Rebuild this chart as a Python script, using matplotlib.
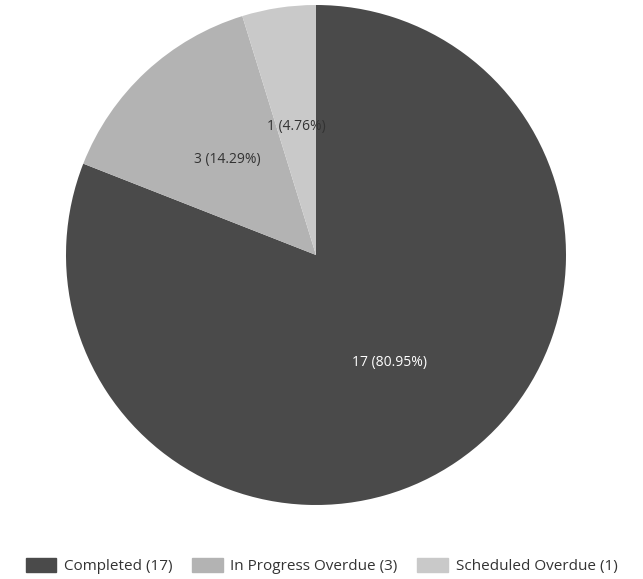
import matplotlib.pyplot as plt
import numpy as np

# data
labels = ["Completed", "In Progress Overdue", "Scheduled Overdue"]
counts = [17, 3, 1]
colors = ["#4a4a4a", "#b3b3b3", "#c9c9c9"]

plt.rcParams['font.family'] = ['Open Sans', 'DejaVu Sans']

fig = plt.figure(figsize=(6.43, 5.79), dpi=100)
# pie area: center ~ (316, 255), radius ~250 px
ax = fig.add_axes([66 / 643, (579 - 505) / 579, 500 / 643, 500 / 579])

total = sum(counts)
wedges, texts = ax.pie(counts, colors=colors, startangle=90, counterclock=False,
                       radius=1.0, wedgeprops=dict(linewidth=0))

for w, c in zip(wedges, counts):
    ang = np.deg2rad((w.theta1 + w.theta2) / 2)
    x, y = 0.52 * np.cos(ang), 0.52 * np.sin(ang)
    txt_col = "white" if w.get_facecolor()[0] < 0.5 else "#333333"
    ax.text(x, y, f"{c} ({c / total * 100:.2f}%)", ha="center", va="center",
            fontsize=10, color=txt_col)

ax.set_xlim(-1, 1)
ax.set_ylim(-1, 1)
ax.set_aspect("equal")

handles = [plt.Rectangle((0, 0), 1, 1, color=col) for col in colors]
leg_labels = [f"{l} ({c})" for l, c in zip(labels, counts)]
fig.legend(handles, leg_labels, loc="center", bbox_to_anchor=(0.5, 1 - 566 / 579),
           ncol=3, frameon=False, fontsize=11, handlelength=2.0, handleheight=1.1,
           columnspacing=1.3, handletextpad=0.5, labelcolor="#333333")

fig.savefig("out.png", dpi=100)
